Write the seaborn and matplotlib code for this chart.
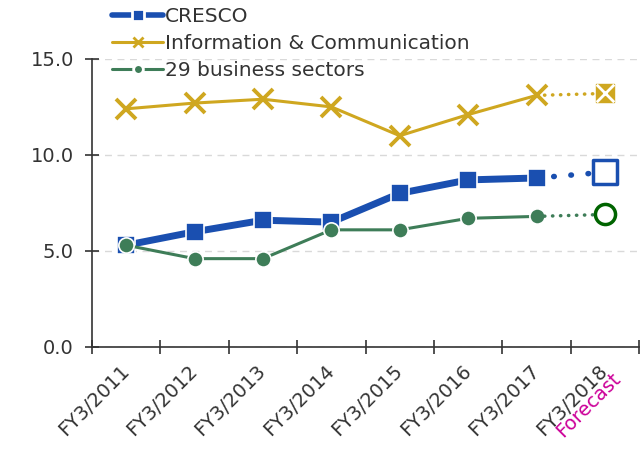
import numpy as np
import pandas as pd
import matplotlib
matplotlib.use('Agg')
import matplotlib.pyplot as plt
import seaborn as sns
from matplotlib.lines import Line2D

sns.set_style('white')
plt.rcParams['font.family'] = ['DejaVu Sans']

# Data
years = ['FY3/2011', 'FY3/2012', 'FY3/2013', 'FY3/2014',
         'FY3/2015', 'FY3/2016', 'FY3/2017', 'FY3/2018']
cresco = [5.3, 6.0, 6.6, 6.5, 8.0, 8.7, 8.8, 9.1]
info_comm = [12.4, 12.7, 12.9, 12.5, 11.0, 12.1, 13.1, 13.2]
sectors29 = [5.3, 4.6, 4.6, 6.1, 6.1, 6.7, 6.8, 6.9]

df = pd.DataFrame({'pos': np.arange(len(years)), 'year': years,
                   'CRESCO': cresco, 'info': info_comm, 'sectors': sectors29})
actual = df.iloc[:-1]
fcst = df.iloc[-2:]
last = df.iloc[[-1]]

blue = '#1A4FB0'
gold = '#CFA720'
green = '#3E7D58'
dgreen = '#006400'
txt = '#333333'

fig = plt.figure(figsize=(6.43, 4.53), dpi=100)
ax = fig.add_axes([0.143, 0.234, 0.851, 0.636])

# gold line
sns.lineplot(data=actual, x='pos', y='info', color=gold, lw=2.2, marker='x',
             ms=15, mew=2.8, mec=gold, ax=ax)
sns.lineplot(data=fcst, x='pos', y='info', color=gold, lw=2.5,
             ls=(0, (0.1, 2.2)), dash_capstyle='round', ax=ax)
sns.scatterplot(data=last, x='pos', y='info', color=gold, marker='s', s=160,
                edgecolor=gold, ax=ax, zorder=5)
sns.scatterplot(data=last, x='pos', y='info', color='white', marker='x', s=160,
                linewidth=2, ax=ax, zorder=6)

# blue line
sns.lineplot(data=actual, x='pos', y='CRESCO', color=blue, lw=5, marker='s',
             ms=13, mec='white', mew=1.2, ax=ax)
sns.lineplot(data=fcst, x='pos', y='CRESCO', color=blue, lw=4,
             ls=(0, (0.1, 3)), dash_capstyle='round', ax=ax)
sns.scatterplot(data=last, x='pos', y='CRESCO', color='white', marker='s', s=290,
                edgecolor=blue, linewidth=2.5, ax=ax, zorder=5)

# green line
sns.lineplot(data=actual, x='pos', y='sectors', color=green, lw=2.2, marker='o',
             ms=11, mec='white', mew=1.2, ax=ax)
sns.lineplot(data=fcst, x='pos', y='sectors', color=green, lw=2.5,
             ls=(0, (0.1, 2.2)), dash_capstyle='round', ax=ax)
sns.scatterplot(data=last, x='pos', y='sectors', color='white', marker='o', s=210,
                edgecolor=dgreen, linewidth=2.5, ax=ax, zorder=5)

ax.set_xlim(-0.5, len(years) - 0.5)
ax.set_ylim(0, 15)
ax.set_yticks([0, 5, 10, 15])
ax.set_yticklabels([f'{v:.1f}' for v in [0, 5, 10, 15]], fontsize=14, color=txt)
ax.set_xticks(df['pos'])
ax.set_xticks(np.arange(-0.5, len(years)), minor=True)
ax.set_xticklabels(years, rotation=45, ha='right', rotation_mode='anchor',
                   va='center', fontsize=14, color=txt)
ax.tick_params(axis='x', which='major', length=0, pad=15)
ax.tick_params(axis='x', which='minor', bottom=True, length=10,
               direction='inout', color=txt, width=1.2)
ax.tick_params(axis='y', left=True, length=10, direction='inout', color=txt,
               width=1.2, pad=8)
ax.set_xlabel('')
ax.set_ylabel('')
ax.yaxis.grid(True, ls=(0, (5, 4)), color='#D9D9D9', lw=1)
ax.set_axisbelow(True)
for s in ['top', 'right']:
    ax.spines[s].set_visible(False)
for s in ['left', 'bottom']:
    ax.spines[s].set_color(txt)
    ax.spines[s].set_linewidth(1.2)

ax.annotate('Forecast', xy=(7, 0), xycoords=('data', 'axes fraction'),
            xytext=(9.5, -21), textcoords='offset points', rotation=45,
            ha='right', va='center', rotation_mode='anchor', fontsize=14,
            color='#CC0099')

handles = [
    Line2D([], [], color=blue, lw=4, marker='s', ms=8, mec='white', mew=2),
    Line2D([], [], color=gold, lw=2.2, marker='x', ms=7, mew=2),
    Line2D([], [], color=green, lw=2.2, marker='o', ms=7, mec='white', mew=2),
]
fig.legend(handles, ['CRESCO', 'Information & Communication', '29 business sectors'],
           loc='upper left', bbox_to_anchor=(0.174, 0.984), frameon=False,
           borderpad=0, borderaxespad=0, fontsize=14.5, handlelength=2.55,
           handletextpad=0.1, labelspacing=0.38, labelcolor=txt)

fig.savefig('out.png', dpi=100)
